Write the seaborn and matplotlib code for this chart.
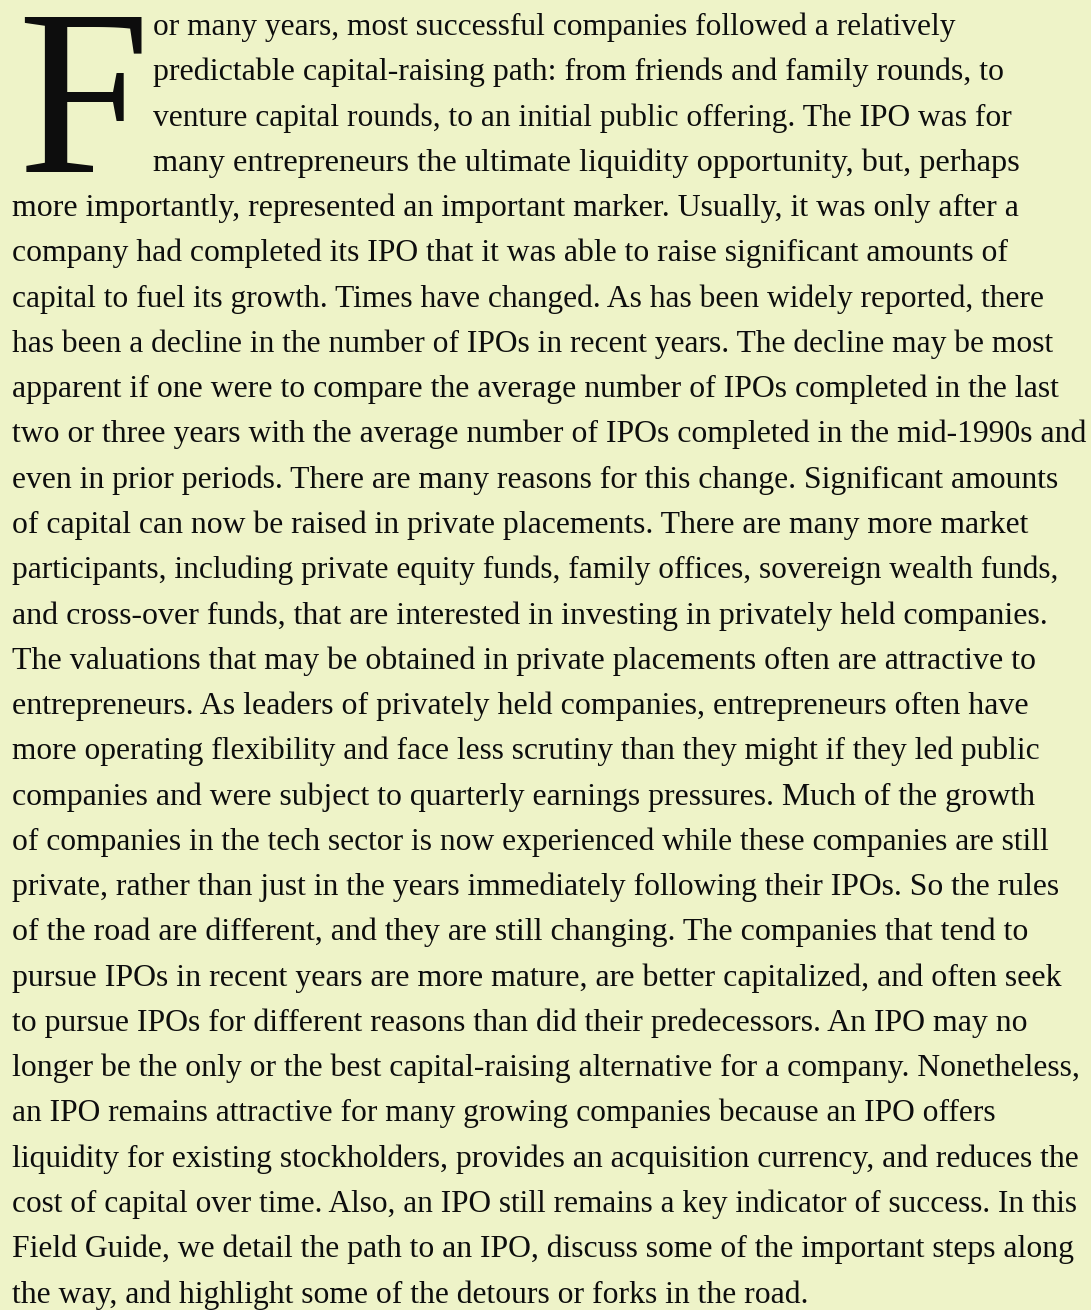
import matplotlib
matplotlib.use('Agg')
import matplotlib.pyplot as plt
import seaborn as sns

# Paragraph text, broken into the same lines as the reference
drop_cap = "F"
lines = [
    "or many years, most successful companies followed a relatively",
    "predictable capital-raising path: from friends and family rounds, to",
    "venture capital rounds, to an initial public offering. The IPO was for",
    "many entrepreneurs the ultimate liquidity opportunity, but, perhaps",
    "more importantly, represented an important marker. Usually, it was only after a",
    "company had completed its IPO that it was able to raise significant amounts of",
    "capital to fuel its growth. Times have changed. As has been widely reported, there",
    "has been a decline in the number of IPOs in recent years. The decline may be most",
    "apparent if one were to compare the average number of IPOs completed in the last",
    "two or three years with the average number of IPOs completed in the mid-1990s and",
    "even in prior periods. There are many reasons for this change. Significant amounts",
    "of capital can now be raised in private placements. There are many more market",
    "participants, including private equity funds, family offices, sovereign wealth funds,",
    "and cross-over funds, that are interested in investing in privately held companies.",
    "The valuations that may be obtained in private placements often are attractive to",
    "entrepreneurs. As leaders of privately held companies, entrepreneurs often have",
    "more operating flexibility and face less scrutiny than they might if they led public",
    "companies and were subject to quarterly earnings pressures. Much of the growth",
    "of companies in the tech sector is now experienced while these companies are still",
    "private, rather than just in the years immediately following their IPOs. So the rules",
    "of the road are different, and they are still changing. The companies that tend to",
    "pursue IPOs in recent years are more mature, are better capitalized, and often seek",
    "to pursue IPOs for different reasons than did their predecessors. An IPO may no",
    "longer be the only or the best capital-raising alternative for a company. Nonetheless,",
    "an IPO remains attractive for many growing companies because an IPO offers",
    "liquidity for existing stockholders, provides an acquisition currency, and reduces the",
    "cost of capital over time. Also, an IPO still remains a key indicator of success. In this",
    "Field Guide, we detail the path to an IPO, discuss some of the important steps along",
    "the way, and highlight some of the detours or forks in the road.",
]

# layout: right edge (px) where each line ends in the reference
line_ends = [953, 1005, 1013, 1020, 1022, 1008, 1045, 1055, 1057, 1086,
             1059, 1029, 1058, 1046, 1035, 1029, 1038, 1036, 1048, 1060,
             1025, 1063, 1028, 1079, 997, 1079, 1076, 1075, 807]
indented_lines = 4  # lines that sit beside the drop cap

W, H = 1091, 1310
bg = "#EEF3C8"
ink = "#0D0D0D"

sns.set_theme(style="white")
plt.rcParams['font.family'] = ['Liberation Serif', 'DejaVu Serif']

fig = plt.figure(figsize=(W / 100, H / 100), dpi=100)
fig.patch.set_facecolor(bg)
ax = fig.add_axes([0, 0, 1, 1])
ax.set_facecolor(bg)
ax.set_xlim(0, W)
ax.set_ylim(H, 0)
ax.axis('off')

renderer = fig.canvas.get_renderer()
line_gap = 45.27
first_base = 35
for i, line in enumerate(lines):
    x = 153 if i < indented_lines else 12
    t = ax.text(x, first_base + i * line_gap, line, fontsize=20,
                color=ink, va='baseline', ha='left')
    # size each line so it spans like the reference
    w = t.get_window_extent(renderer).width
    t.set_fontsize(20 * (line_ends[i] - x) / w)

ax.text(17, 172, drop_cap, fontsize=171, fontweight='normal', color=ink,
        va='baseline', ha='left', family='Liberation Serif')

fig.savefig('out.png', dpi=100, facecolor=bg)
